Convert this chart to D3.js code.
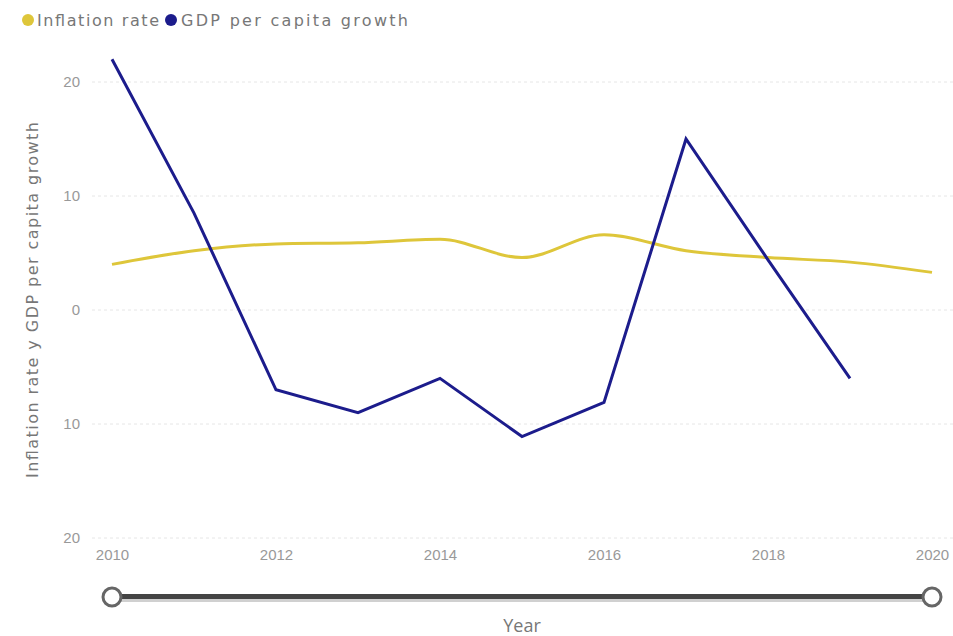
<!DOCTYPE html>
<html>
<head>
<meta charset="utf-8">
<script src="https://cdn.jsdelivr.net/npm/d3@7"></script>
<style>
  html, body { margin: 0; padding: 0; background: #fff; }
  svg { display: block; font-family: "Open Sans", "Noto Sans", sans-serif; }
  .wide { font-family: "DejaVu Sans", "Open Sans", sans-serif; }
</style>
</head>
<body>
<svg id="chart" width="953" height="636"></svg>
<script>
const years = [2010, 2011, 2012, 2013, 2014, 2015, 2016, 2017, 2018, 2019, 2020];
const inflationRate = [4.0, 5.2, 5.8, 5.9, 6.2, 4.6, 6.6, 5.2, 4.6, 4.2, 3.3];
const gdpGrowthYears = [2010, 2011, 2012, 2013, 2014, 2015, 2016, 2017, 2018, 2019];
const gdpGrowth = [22.0, 8.5, -7.0, -9.0, -6.0, -11.1, -8.1, 15.0, 4.4, -6.0];
const yTickValues = [20, 10, 0, -10, -20];
const yTickLabels = ["20", "10", "0", "10", "20"];
const xTickValues = [2010, 2012, 2014, 2016, 2018, 2020];
const seriesNames = ["Inflation rate", "GDP per capita growth"];
const seriesColors = ["#DEC63A", "#1C1C8C"];

const svg = d3.select("#chart");

const x = d3.scaleLinear().domain([2010, 2020]).range([112, 932]);
const y = d3.scaleLinear().domain([-20, 20]).range([538, 82]);

// gridlines
svg.append("g")
  .selectAll("line")
  .data(yTickValues)
  .join("line")
  .attr("x1", 92).attr("x2", 953)
  .attr("y1", d => y(d)).attr("y2", d => y(d))
  .attr("stroke", "#e6e6e6")
  .attr("stroke-width", 1)
  .attr("stroke-dasharray", "3,3");

// y axis
const yAxis = d3.axisLeft(y)
  .tickValues(yTickValues)
  .tickFormat((d, i) => yTickLabels[i])
  .tickSize(0)
  .tickPadding(0);
const gy = svg.append("g").attr("transform", "translate(80,0)").call(yAxis);
gy.select(".domain").remove();
gy.selectAll("text").attr("fill", "#999").style("font-size", "15px");

// x axis
const xAxis = d3.axisBottom(x)
  .tickValues(xTickValues)
  .tickFormat(d3.format("d"))
  .tickSize(0)
  .tickPadding(0);
const gx = svg.append("g").attr("transform", "translate(0,549)").call(xAxis);
gx.select(".domain").remove();
gx.selectAll("text").attr("fill", "#999").style("font-size", "15px");

// axis titles
svg.append("text")
  .attr("class", "wide")
  .attr("transform", "translate(38,300) rotate(-90)")
  .attr("text-anchor", "middle")
  .attr("fill", "#777")
  .style("font-size", "16px")
  .attr("textLength", 356)
  .attr("lengthAdjust", "spacing")
  .text("Inflation rate y GDP per capita growth");

svg.append("text")
  .attr("x", 522).attr("y", 632)
  .attr("text-anchor", "middle")
  .attr("fill", "#777")
  .style("font-size", "18px")
  .text("Year");

// lines
const infData = years.map((yr, i) => ({ x: yr, v: inflationRate[i] }));
const gdpData = gdpGrowthYears.map((yr, i) => ({ x: yr, v: gdpGrowth[i] }));

svg.append("path")
  .datum(infData)
  .attr("fill", "none")
  .attr("stroke", seriesColors[0])
  .attr("stroke-width", 3)
  .attr("stroke-linejoin", "round")
  .attr("d", d3.line().x(d => x(d.x)).y(d => y(d.v)).curve(d3.curveMonotoneX));

svg.append("path")
  .datum(gdpData)
  .attr("fill", "none")
  .attr("stroke", seriesColors[1])
  .attr("stroke-width", 3)
  .attr("stroke-linejoin", "miter")
  .attr("d", d3.line().x(d => x(d.x)).y(d => y(d.v)));

// slider
svg.append("line")
  .attr("x1", x(2010)).attr("x2", x(2020))
  .attr("y1", 600).attr("y2", 600)
  .attr("stroke", "#d0d0d0").attr("stroke-width", 4);
svg.append("line")
  .attr("x1", x(2010)).attr("x2", x(2020))
  .attr("y1", 596.5).attr("y2", 596.5)
  .attr("stroke", "#444").attr("stroke-width", 5);
svg.append("g")
  .selectAll("circle")
  .data([2010, 2020])
  .join("circle")
  .attr("cx", d => x(d)).attr("cy", 597)
  .attr("r", 9)
  .attr("fill", "#fff")
  .attr("stroke", "#666")
  .attr("stroke-width", 3);

// legend
const legend = svg.append("g").attr("transform", "translate(0,20)");
const items = [{ cx: 28, tx: 37, w: 122 }, { cx: 171, tx: 181, w: 227 }];
seriesNames.forEach((name, i) => {
  legend.append("circle")
    .attr("cx", items[i].cx).attr("cy", 0).attr("r", 6)
    .attr("fill", seriesColors[i]);
  legend.append("text")
    .attr("class", "wide")
    .attr("x", items[i].tx).attr("y", 0)
    .attr("dy", "0.35em")
    .attr("fill", "#777")
    .style("font-size", "16px")
    .attr("textLength", items[i].w)
    .attr("lengthAdjust", "spacing")
    .text(name);
});
</script>
</body>
</html>
